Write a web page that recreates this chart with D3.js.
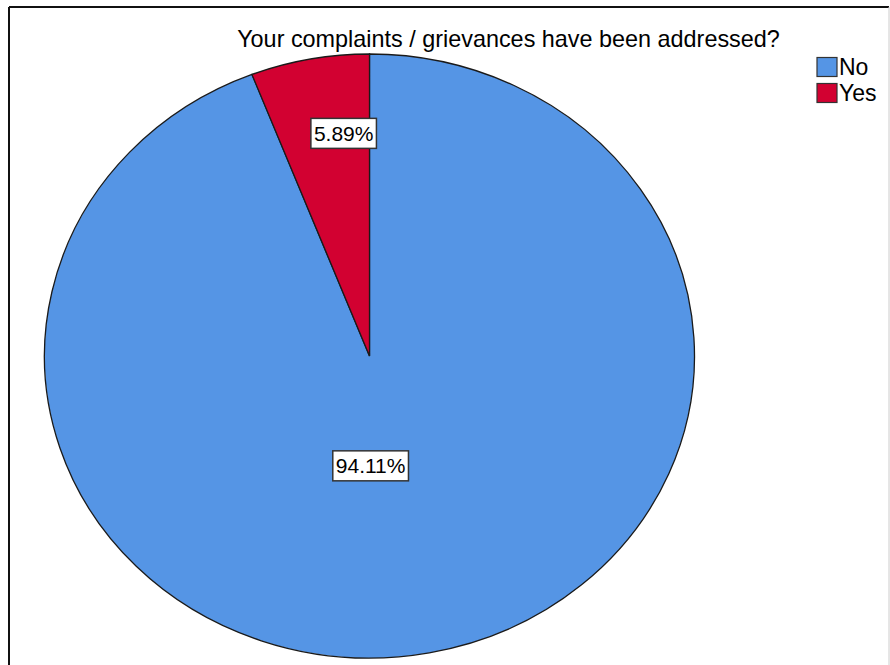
<!DOCTYPE html>
<html>
<head>
<meta charset="utf-8">
<script src="https://cdn.jsdelivr.net/npm/d3@7"></script>
<style>
  html, body { margin: 0; padding: 0; background: #fff; }
  svg { display: block; font-family: "Liberation Sans", Arial, sans-serif; }
</style>
</head>
<body>
<svg id="chart" width="890" height="665"></svg>
<script>
// Survey answers and their shares (percent)
const categories = ["No", "Yes"];
const shares = [94.11, 5.89];
const colors = ["#5595E5", "#D20131"];
const title = "Your complaints / grievances have been addressed?";

const svg = d3.select("#chart");

// Frame lines
svg.append("line").attr("x1", 9).attr("y1", 7).attr("x2", 9).attr("y2", 665)
  .attr("stroke", "#111").attr("stroke-width", 2);
svg.append("line").attr("x1", 9).attr("y1", 7).attr("x2", 889).attr("y2", 7)
  .attr("stroke", "#111").attr("stroke-width", 2);
svg.append("line").attr("x1", 889).attr("y1", 7).attr("x2", 889).attr("y2", 665)
  .attr("stroke", "#ccc").attr("stroke-width", 1);

// Title
svg.append("text")
  .attr("x", 508.5).attr("y", 47)
  .attr("text-anchor", "middle")
  .attr("font-size", 23.4)
  .attr("fill", "#000")
  .text(title);

// Elliptical pie: drawn as a circle and stretched horizontally
const cx = 369.5, cy = 356, rx = 325, ry = 302;
const pie = d3.pie().sort(null).value(d => d)(shares);
const arc = d3.arc().innerRadius(0).outerRadius(ry);

const g = svg.append("g").attr("transform", `translate(${cx},${cy})`);
const pieG = g.append("g").attr("transform", `scale(${rx / ry},1)`);

pieG.selectAll("path.slice")
  .data(pie)
  .join("path")
  .attr("class", "slice")
  .attr("d", arc)
  .attr("fill", (d, i) => colors[i])
  .attr("stroke", "#1a1a1a")
  .attr("stroke-width", 1.3)
  .attr("vector-effect", "non-scaling-stroke");

// Value labels in boxes
const labelPos = [
  { r: 0.37, dx: -21 },   // No
  { r: 0.75, dx: 19 }     // Yes
];
const fmt = d => d.toFixed(2) + "%";

pie.forEach((d, i) => {
  const mid = (d.startAngle + d.endAngle) / 2;
  const p = labelPos[i];
  const x = Math.sin(mid) * ry * p.r * (rx / ry) + p.dx;
  const y = -Math.cos(mid) * ry * p.r;
  const lg = g.append("g").attr("transform", `translate(${x},${y})`);
  const t = lg.append("text")
    .attr("text-anchor", "middle")
    .attr("dy", "0.36em")
    .attr("font-size", 21)
    .attr("fill", "#000")
    .text(fmt(shares[i]));
  const bb = t.node().getBBox();
  lg.insert("rect", "text")
    .attr("x", bb.x - 3).attr("y", -15)
    .attr("width", bb.width + 6).attr("height", 30)
    .attr("fill", "#fff")
    .attr("stroke", "#333")
    .attr("stroke-width", 1.5);
});

// Legend
const legend = svg.append("g").attr("transform", "translate(817,57.5)");
const items = legend.selectAll("g")
  .data(categories)
  .join("g")
  .attr("transform", (d, i) => `translate(0,${i * 26})`);
items.append("rect")
  .attr("width", 20).attr("height", 19)
  .attr("fill", (d, i) => colors[i])
  .attr("stroke", "#333").attr("stroke-width", 1.2);
items.append("text")
  .attr("x", 22).attr("y", 17)
  .attr("font-size", 23)
  .attr("fill", "#000")
  .text(d => d);
</script>
</body>
</html>
